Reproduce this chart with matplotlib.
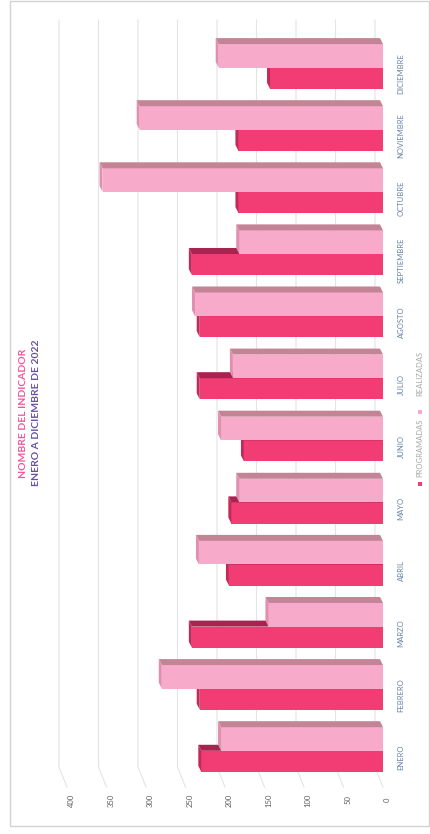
import numpy as np
import matplotlib.pyplot as plt
from matplotlib.patches import Polygon, Rectangle
from matplotlib.transforms import blended_transform_factory

plt.rcParams['font.family'] = ['Lato', 'DejaVu Sans']

meses = ['ENERO', 'FEBRERO', 'MARZO', 'ABRIL', 'MAYO', 'JUNIO', 'JULIO',
         'AGOSTO', 'SEPTIEMBRE', 'OCTUBRE', 'NOVIEMBRE', 'DICIEMBRE']
programadas = [230, 232, 242, 195, 192, 176, 232, 232, 242, 183, 183, 143]
realizadas = [205, 280, 145, 233, 182, 205, 190, 238, 182, 355, 308, 208]
valores_eje = [0, 50, 100, 150, 200, 250, 300, 350, 400]
series = ['PROGRAMADAS', 'REALIZADAS']

# colores: cara frontal, cara lateral, extremo
col_prog = ('#F23C74', '#A8234F', '#C22A5A')
col_real = ('#F8AACB', '#C38496', '#E08FAE')

W, H = 430, 834
fig = plt.figure(figsize=(W / 100, H / 100), dpi=100)


def fx(px):
    return px / W


def fy(py):
    return 1 - py / H


# pixel scale of the rotated chart
px_val = 0.79    # px per unit of value
px_cat = 62.1    # px per month
ax = fig.add_axes([fx(40), fy(790), fx(395) - fx(40), fy(15) - fy(790)])
ax.set_xlim((383 - 40) / px_val, (383 - 395) / px_val)
ax.set_ylim((757 - 790) / px_cat, (757 - 15) / px_cat)
ax.axis('off')

dv = 3 / px_val     # depth shift (value units)
dy = 6 / px_cat     # depth shift (category units)
dw = 8 / px_val     # back wall shift

# back wall grid lines with floor diagonal
y_top = (757 - 20) / px_cat
y_wall = (757 - 767) / px_cat
y_front = (757 - 787) / px_cat
for v in valores_eje:
    ax.plot([v + dw, v + dw, v], [y_top, y_wall, y_front],
            color='#E4E4E4', lw=0.8, zorder=1)

idx = np.arange(len(meses))


def barras3d(y0, vals, h, cols, z):
    ax.barh(y0, vals, height=h, left=0, align='edge', color=cols[0],
            lw=0, zorder=z)
    for y, v in zip(y0, vals):
        yt = y + h
        ax.add_patch(Polygon([(0, yt), (v, yt), (v + dv, yt + dy), (dv, yt + dy)],
                             closed=True, fc=cols[1], lw=0, zorder=z))
        ax.add_patch(Polygon([(v, y), (v, yt), (v + dv, yt + dy), (v + dv, y + dy)],
                             closed=True, fc=cols[2], lw=0, zorder=z))


barras3d(idx - 0.24, programadas, 0.34, col_prog, 2)
barras3d(idx + 0.10, realizadas, 0.38, col_real, 3)

# value labels (bottom)
tr_val = blended_transform_factory(ax.transData, fig.transFigure)
for v in valores_eje:
    ax.text(v - 5.5, fy(800), str(v), transform=tr_val, rotation=90,
            ha='center', va='center', fontsize=5.5, color='#5E5E5E')

# month labels (right)
tr_mes = blended_transform_factory(fig.transFigure, ax.transData)
for i, m in enumerate(meses):
    ax.text(fx(401), i, m, transform=tr_mes, rotation=90,
            ha='center', va='center', fontsize=5.5, color='#6584A8')

# title
fig.text(fx(24), fy(413), 'NOMBRE DEL INDICADOR', rotation=90, ha='center',
         va='center', fontsize=7.5, weight='bold', color='#F0589A')
fig.text(fx(37), fy(413), 'ENERO A DICIEMBRE DE 2022', rotation=90, ha='center',
         va='center', fontsize=7.5, weight='bold', color='#6A4FA3')

# legend
for (my, ty), nombre, c in zip([(484, 448), (412, 373)], series,
                               [col_prog[0], col_real[0]]):
    fig.add_artist(Rectangle((fx(418), fy(my + 2)), fx(4), 4 / H, fc=c, lw=0,
                             transform=fig.transFigure))
    fig.text(fx(420), fy(ty), nombre, rotation=90, ha='center', va='center',
             fontsize=5.5, color='#A8A8A8')

# chart area frame
fig.add_artist(Rectangle((fx(10), fy(826)), fx(429) - fx(10), fy(1) - fy(826),
                         fill=False, ec='#D2D2D2', lw=1, transform=fig.transFigure))

fig.savefig('out.png', dpi=100)
